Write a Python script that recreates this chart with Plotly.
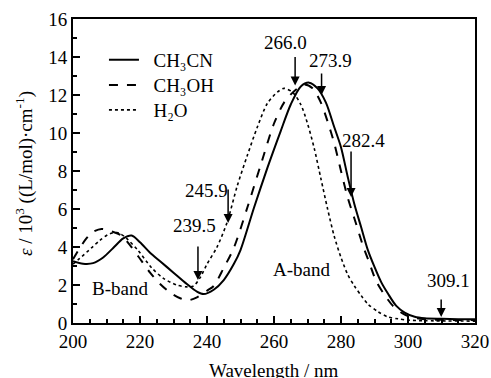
import plotly.graph_objects as go

# ---- data ----
x_ch3cn = [200, 203, 206, 209, 212, 215, 217.5, 220, 223, 226, 230, 234, 237, 239, 242, 245, 248, 250, 254, 258, 262, 265, 268, 270.5, 273, 275.5, 278, 280, 282, 284, 286, 288, 290, 292, 294, 296.5, 299, 302, 305, 310, 315, 320]
y_ch3cn = [3.25, 3.12, 3.15, 3.45, 3.95, 4.45, 4.6, 4.25, 3.7, 3.25, 2.65, 2.05, 1.65, 1.52, 1.75, 2.26, 3.1, 3.84, 6.05, 8.15, 10.1, 11.5, 12.45, 12.65, 12.35, 11.6, 10.3, 9.25, 7.7, 6.25, 5.05, 3.85, 2.95, 2.15, 1.55, 0.9, 0.55, 0.33, 0.25, 0.22, 0.2, 0.2]

x_ch3oh = [200, 201.5, 204, 206, 208.5, 211, 214.5, 217, 219.5, 223, 226, 229, 232, 234.5, 237, 240, 242, 245, 248, 252, 256, 260, 263, 266, 269, 271.5, 274, 276, 278, 280, 282, 284, 286.5, 288.5, 290.5, 293, 295.5, 298, 301, 305, 310, 320]
y_ch3oh = [3.35, 3.8, 4.45, 4.8, 4.95, 4.85, 4.6, 4.1, 3.5, 2.65, 2.05, 1.6, 1.3, 1.2, 1.35, 1.7, 1.95, 2.9, 3.95, 6.05, 8.3, 10.5, 11.6, 12.2, 12.55, 12.35, 11.6, 10.6, 9.45, 8.0, 6.6, 5.5, 4.1, 3.15, 2.2, 1.48, 0.9, 0.55, 0.3, 0.2, 0.17, 0.15]

x_h2o = [200, 202, 205.5, 208, 211, 213.5, 216, 219.5, 223.5, 227, 231, 234, 236, 238, 240, 243, 246, 249, 252, 255, 258, 261, 263, 265.5, 268, 270, 272, 274, 276, 278, 280, 282, 284, 286, 288, 291, 294, 297, 300, 305, 320]
y_h2o = [3.1, 3.4, 3.95, 4.35, 4.7, 4.75, 4.45, 3.8, 2.9, 2.35, 2.0, 1.9, 1.95, 2.4, 3.1, 4.0, 5.3, 7.2, 8.8, 10.3, 11.55, 12.15, 12.35, 12.15, 11.5, 10.5, 9.2, 7.6, 6.0, 4.55, 3.45, 2.55, 1.95, 1.45, 1.0, 0.6, 0.32, 0.22, 0.15, 0.12, 0.1]

# arrow marks: label, tip wavelength, tip value
arrow_labels = ["239.5", "245.9", "266.0", "273.9", "282.4", "309.1"]
arrow_x = [237.3, 246.3, 266.3, 274.2, 283.0, 309.9]
arrow_y = [2.26, 5.26, 12.5, 12.0, 6.63, 0.32]
arrow_len = [35, 35, 30, 23, 47, 19]
label_x = [236.4, 239.7, 263.3, 277.0, 286.6, 312.2]
label_y = [5.11, 6.95, 14.74, 13.79, 9.63, 2.26]

band_labels = ["B-band", "A-band"]
band_x = [214.0, 268.1]
band_y = [1.79, 2.79]

FONT = "Liberation Serif"
FS = 19
NB = "\u00a0\u00a0"

fig = go.Figure()
fig.add_trace(go.Scatter(x=x_ch3cn, y=y_ch3cn, mode="lines", name=NB + "CH₃CN", legend="legend",
                         line=dict(color="black", width=2, shape="spline", smoothing=0.8)))
fig.add_trace(go.Scatter(x=x_ch3oh, y=y_ch3oh, mode="lines", name=NB + "CH₃OH", legend="legend2",
                         line=dict(color="black", width=2, dash="dash", shape="spline", smoothing=0.8)))
fig.add_trace(go.Scatter(x=x_h2o, y=y_h2o, mode="lines", name=NB + "H₂O", legend="legend3",
                         line=dict(color="black", width=1.6, dash="dot", shape="spline", smoothing=0.8)))

annotations = []
for xa, ya, L in zip(arrow_x, arrow_y, arrow_len):
    annotations.append(dict(x=xa, y=ya, xref="x", yref="y", text="", showarrow=True,
                            ax=0, ay=-L, arrowhead=2, arrowsize=1.2, arrowwidth=1.5,
                            arrowcolor="black"))
for t, xa, ya in zip(arrow_labels, label_x, label_y):
    annotations.append(dict(x=xa, y=ya, xref="x", yref="y", text=t, showarrow=False,
                            xanchor="center", yanchor="middle",
                            font=dict(family=FONT, size=FS, color="black")))
for t, xa, ya in zip(band_labels, band_x, band_y):
    annotations.append(dict(x=xa, y=ya, xref="x", yref="y", text=t, showarrow=False,
                            xanchor="center", yanchor="middle",
                            font=dict(family=FONT, size=FS, color="black")))
# axis titles
annotations.append(dict(x=-0.122, y=0.493, xref="paper", yref="paper", textangle=-90,
                        xanchor="center", yanchor="middle",
                        text="<i>ε</i> / 10<sup>3</sup> ((L/mol)·cm<sup>-1</sup>)",
                        showarrow=False, font=dict(family=FONT, size=FS, color="black")))
annotations.append(dict(x=0.5, y=-0.155, xref="paper", yref="paper",
                        xanchor="center", yanchor="middle",
                        text="Wavelength / nm", showarrow=False,
                        font=dict(family=FONT, size=FS, color="black")))

leg_common = dict(xanchor="left", yanchor="top", bgcolor="rgba(0,0,0,0)",
                  font=dict(family=FONT, size=FS), itemwidth=30)

fig.update_layout(
    width=491, height=378,
    margin=dict(l=73, r=16, t=19, b=55, autoexpand=False),
    paper_bgcolor="white", plot_bgcolor="white",
    font=dict(family=FONT, size=FS, color="black"),
    showlegend=True,
    legend=dict(x=0.077, y=0.928, **leg_common),
    legend2=dict(x=0.077, y=0.845, **leg_common),
    legend3=dict(x=0.077, y=0.763, **leg_common),
    annotations=annotations,
    xaxis=dict(range=[200, 320], showgrid=False, zeroline=False, showline=True,
               automargin=False,
               linecolor="black", linewidth=2, mirror=True,
               ticks="inside", ticklen=7, tickwidth=2, tickcolor="black",
               tick0=200, dtick=20, tickfont=dict(family=FONT, size=FS),
               minor=dict(ticks="inside", ticklen=4, tickwidth=1.5, dtick=5, tickcolor="black")),
    yaxis=dict(range=[0, 16], showgrid=False, zeroline=False, showline=True,
               automargin=False,
               linecolor="black", linewidth=2, mirror=True,
               ticks="inside", ticklen=7, tickwidth=2, tickcolor="black",
               tick0=0, dtick=2, tickfont=dict(family=FONT, size=FS),
               minor=dict(ticks="inside", ticklen=4, tickwidth=1.5, dtick=1, tickcolor="black")),
)

fig.write_html("out.html", config={"displayModeBar": False},
               post_script="document.body.style.margin='0';document.body.style.overflow='hidden';")
